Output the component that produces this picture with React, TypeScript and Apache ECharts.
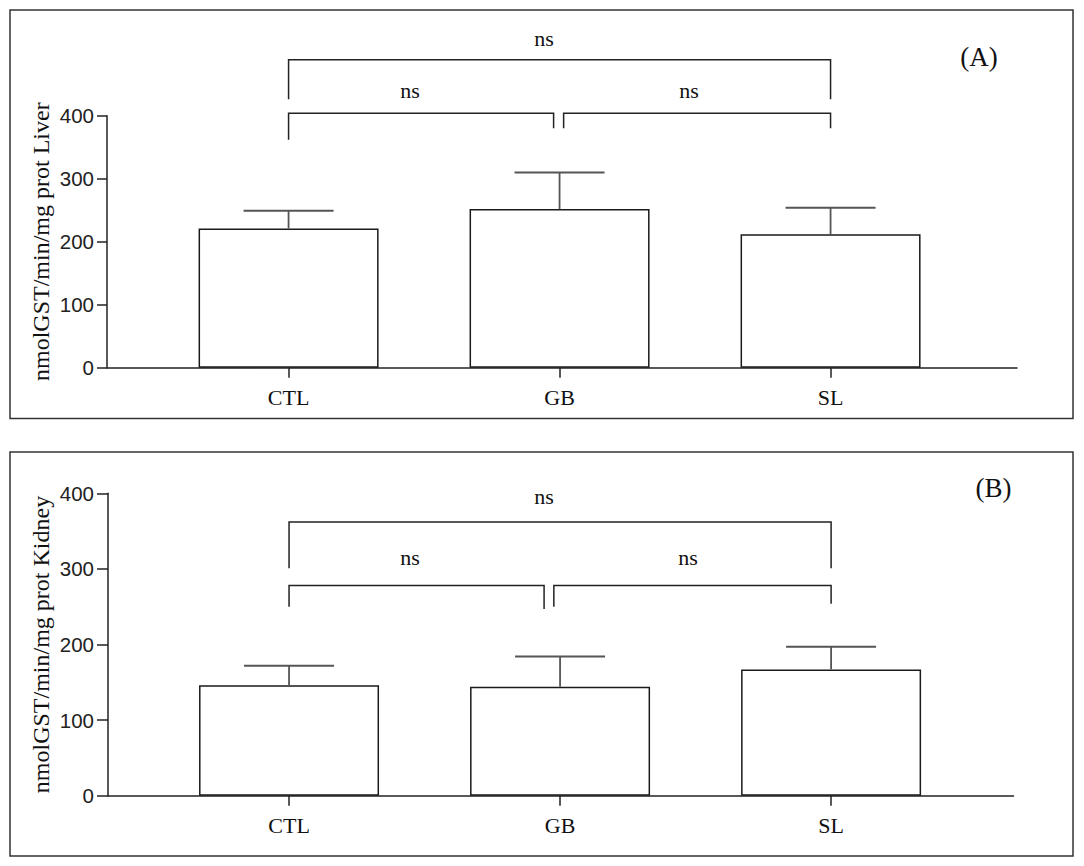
import React, { useEffect, useRef } from "react";
import * as echarts from "echarts";

const categories = ["CTL", "GB", "SL"];
const categoryPositions = [0, 1, 2];
const liverMeans = [221, 252, 212];
const liverErrors = [28, 58, 42];
const kidneyMeans = [146, 144, 167];
const kidneyErrors = [26, 40, 30];
const yTickValues = [0, 100, 200, 300, 400];
const liverAxisName = "nmolGST/min/mg prot Liver";
const kidneyAxisName = "nmolGST/min/mg prot Kidney";
const panelLabels = ["(A)", "(B)"];
const bracketText = "ns";
// [fromX, toX, barY, leftEndY, rightEndY, labelX, labelY]
const liverBrackets = [
  [0, 2, 489, 426, 426, 0.943, 523],
  [0, 0.978, 404, 362, 380, 0.448, 440],
  [1.015, 2, 404, 380, 380, 1.478, 440],
];
const kidneyBrackets = [
  [0, 2, 362, 301, 301, 0.941, 396],
  [0, 0.941, 278, 250, 247, 0.446, 315],
  [0.977, 2, 278, 250, 254, 1.472, 315],
];

const SERIF = "Liberation Serif";
const SANS = "Liberation Sans";
const AXIS_COLOR = "#222";

function buildPanel(idx: number, means: number[], errors: number[], brackets: number[][], name: string, nameGap: number) {
  const xAxis = {
    type: "value",
    gridIndex: idx,
    min: idx === 0 ? -0.67 : -0.668,
    max: idx === 0 ? 2.688 : 2.673,
    axisLine: { show: true, onZero: false, lineStyle: { color: AXIS_COLOR, width: 1.5 } },
    axisTick: { show: true, customValues: categoryPositions, length: 10, lineStyle: { color: AXIS_COLOR, width: 1.5 } },
    axisLabel: {
      show: true,
      customValues: categoryPositions,
      formatter: (v: number) => categories[Math.round(v)] ?? "",
      margin: 19,
      fontFamily: SERIF,
      fontSize: 22,
      color: "#111",
    },
    splitLine: { show: false },
  };
  const yAxis = {
    type: "value",
    gridIndex: idx,
    min: yTickValues[0],
    max: yTickValues[yTickValues.length - 1],
    interval: 100,
    name,
    nameLocation: "middle",
    nameGap,
    nameMoveOverlap: false,
    nameRotate: 90,
    nameTextStyle: { fontFamily: SERIF, fontSize: 24, color: "#111" },
    axisLine: { show: true, onZero: false, lineStyle: { color: AXIS_COLOR, width: 1.5 } },
    axisTick: { show: true, length: idx === 0 ? 10 : 11, lineStyle: { color: AXIS_COLOR, width: 1.5 } },
    axisLabel: { margin: idx === 0 ? 13 : 14, fontFamily: SANS, fontSize: 20.5, color: "#222" },
    splitLine: { show: false },
  };
  const bars = {
    type: "bar",
    xAxisIndex: idx,
    yAxisIndex: idx,
    barWidth: 180,
    data: categoryPositions.map((p, i) => [p, means[i]]),
    itemStyle: { color: "#fff", borderColor: "#1a1a1a", borderWidth: 1.5 },
    z: 2,
  };
  const errorBars = {
    type: "custom",
    xAxisIndex: idx,
    yAxisIndex: idx,
    z: 3,
    clip: false,
    data: categoryPositions.map((p, i) => [p, means[i], errors[i]]),
    renderItem: (params: any, api: any) => {
      const x = api.value(0);
      const m = api.value(1);
      const e = api.value(2);
      const p0 = api.coord([x, m]);
      const p1 = api.coord([x, m + e]);
      return {
        type: "group",
        children: [
          { type: "line", shape: { x1: p0[0], y1: p0[1], x2: p1[0], y2: p1[1] }, style: { stroke: "#555", lineWidth: 1.8 } },
          { type: "line", shape: { x1: p1[0] - 45, y1: p1[1], x2: p1[0] + 45, y2: p1[1] }, style: { stroke: "#555", lineWidth: 2 } },
        ],
      };
    },
  };
  const bracketSeries = {
    type: "custom",
    xAxisIndex: idx,
    yAxisIndex: idx,
    z: 4,
    clip: false,
    data: brackets,
    renderItem: (params: any, api: any) => {
      const x1 = api.value(0);
      const x2 = api.value(1);
      const top = api.value(2);
      const lb = api.value(3);
      const rb = api.value(4);
      const lx = api.value(5);
      const ly = api.value(6);
      const pts = [api.coord([x1, lb]), api.coord([x1, top]), api.coord([x2, top]), api.coord([x2, rb])];
      const lp = api.coord([lx, ly]);
      return {
        type: "group",
        children: [
          { type: "polyline", shape: { points: pts }, style: { stroke: "#222", lineWidth: 1.5, fill: "none" } },
          {
            type: "text",
            x: lp[0],
            y: lp[1],
            style: { text: bracketText, align: "center", verticalAlign: "middle", fontFamily: SERIF, fontSize: 22, fill: "#111" },
          },
        ],
      };
    },
  };
  return { xAxis, yAxis, series: [bars, errorBars, bracketSeries] };
}

export default function App() {
  const ref = useRef<HTMLDivElement>(null);
  useEffect(() => {
    if (!ref.current) return;
    const chart = echarts.init(ref.current, null, { renderer: "svg" });
    const a = buildPanel(0, liverMeans, liverErrors, liverBrackets, liverAxisName, 54);
    const b = buildPanel(1, kidneyMeans, kidneyErrors, kidneyBrackets, kidneyAxisName, 55);
    chart.setOption({
      animation: false,
      backgroundColor: "#fff",
      grid: [
        { left: 107, top: 115.7, width: 910, height: 252 },
        { left: 108, top: 493.3, width: 905.5, height: 302.4 },
      ],
      xAxis: [a.xAxis, b.xAxis],
      yAxis: [a.yAxis, b.yAxis],
      series: [...a.series, ...b.series],
      graphic: [
        { type: "rect", shape: { x: 10, y: 10, width: 1063, height: 408.5 }, style: { fill: "none", stroke: "#333", lineWidth: 1.5 }, silent: true },
        { type: "rect", shape: { x: 10, y: 452, width: 1063, height: 404 }, style: { fill: "none", stroke: "#333", lineWidth: 1.5 }, silent: true },
        { type: "text", x: 979, y: 57, style: { text: panelLabels[0], align: "center", verticalAlign: "middle", fontFamily: SERIF, fontSize: 27, fill: "#111" } },
        { type: "text", x: 993.5, y: 487.5, style: { text: panelLabels[1], align: "center", verticalAlign: "middle", fontFamily: SERIF, fontSize: 27, fill: "#111" } },
      ],
    });
    return () => chart.dispose();
  }, []);
  return <div ref={ref} style={{ position: "absolute", left: 0, top: 0, width: 1084, height: 866, background: "#fff" }} />;
}
